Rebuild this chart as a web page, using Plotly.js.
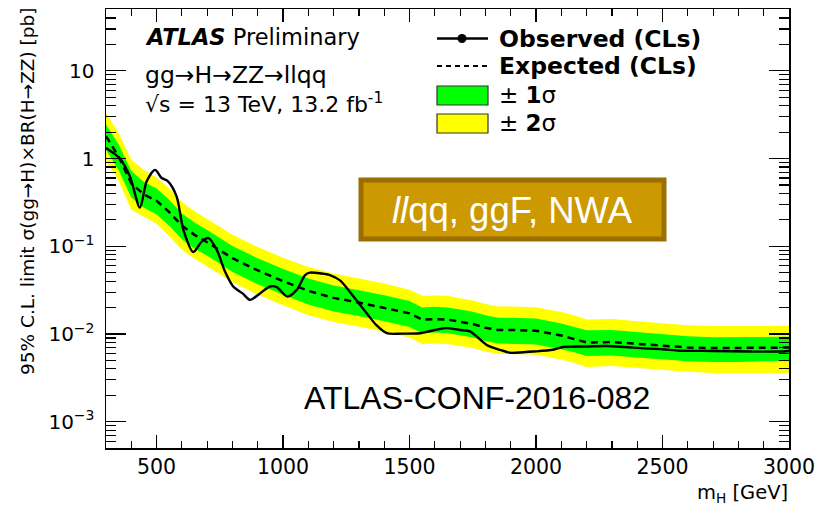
<!DOCTYPE html>
<html>
<head>
<meta charset="utf-8">
<script src="https://cdn.plot.ly/plotly-3.0.1.min.js"></script>
<style>html,body{margin:0;padding:0;background:#fff;}#chart{width:826px;height:508px;}</style>
</head>
<body>
<div id="chart"></div>
<script>
// ---- data ----
const mass = [300, 350, 400, 450, 500, 550, 600, 650, 700, 750, 800, 900, 1000, 1100, 1200, 1300, 1400, 1500, 1550, 1600, 1650, 1700, 1750, 1800, 1850, 1900, 2000, 2100, 2150, 2200, 2300, 2400, 2500, 2600, 2700, 2800, 2900, 3000];
const expected = [1.80, 1.05, 0.52, 0.39, 0.33, 0.245, 0.172, 0.135, 0.111, 0.090, 0.073, 0.053, 0.040, 0.031, 0.0258, 0.0228, 0.0200, 0.0172, 0.0146, 0.0148, 0.0146, 0.0138, 0.0130, 0.0118, 0.0111, 0.0111, 0.0109, 0.0096, 0.0088, 0.0080, 0.0081, 0.0077, 0.0073, 0.0070, 0.0069, 0.0069, 0.0070, 0.0070];
const plus2 = [3.3, 1.95, 0.97, 0.74, 0.61, 0.455, 0.32, 0.25, 0.205, 0.167, 0.135, 0.098, 0.074, 0.058, 0.049, 0.043, 0.0375, 0.032, 0.0272, 0.0275, 0.0272, 0.0256, 0.0241, 0.0219, 0.0206, 0.0206, 0.0202, 0.0178, 0.0163, 0.0146, 0.0148, 0.0140, 0.0132, 0.0126, 0.0123, 0.0123, 0.0124, 0.0124];
const plus1 = [2.45, 1.45, 0.72, 0.54, 0.455, 0.338, 0.237, 0.186, 0.153, 0.124, 0.101, 0.073, 0.055, 0.043, 0.0356, 0.0315, 0.0276, 0.0237, 0.0201, 0.0204, 0.0201, 0.0190, 0.0179, 0.0163, 0.0153, 0.0153, 0.0150, 0.0132, 0.0121, 0.0110, 0.0111, 0.0105, 0.0099, 0.0094, 0.0092, 0.0092, 0.0093, 0.0093];
const minus1 = [1.26, 0.735, 0.36, 0.275, 0.23, 0.171, 0.12, 0.094, 0.078, 0.063, 0.051, 0.037, 0.028, 0.0217, 0.018, 0.016, 0.014, 0.012, 0.0102, 0.0104, 0.0102, 0.0097, 0.0091, 0.0083, 0.0078, 0.0078, 0.0076, 0.0067, 0.0062, 0.0056, 0.0057, 0.0054, 0.0051, 0.0049, 0.0048, 0.0048, 0.0049, 0.0049];
const minus2 = [0.95, 0.56, 0.26, 0.215, 0.18, 0.13, 0.091, 0.072, 0.059, 0.048, 0.039, 0.028, 0.0212, 0.0164, 0.0137, 0.0121, 0.0106, 0.0091, 0.0077, 0.0078, 0.0077, 0.0073, 0.0069, 0.0063, 0.0059, 0.0059, 0.0058, 0.0051, 0.0047, 0.0042, 0.0043, 0.0041, 0.0039, 0.0037, 0.0036, 0.0036, 0.0036, 0.0036];

const obsMass = [300, 325, 355, 395, 434, 461, 494, 520, 545, 579, 606, 645, 678, 705, 738, 770, 803, 840, 869, 909, 948, 975, 1017, 1054, 1087, 1106, 1150, 1185, 1225, 1258, 1304, 1330, 1370, 1410, 1470, 1541, 1600, 1647, 1700, 1739, 1805, 1857, 1897, 1950, 1988, 2067, 2107, 2200, 2279, 2350, 2411, 2500, 2569, 2700, 2850, 2964, 3000];
const observed = [1.32, 1.18, 1.0, 0.62, 0.276, 0.55, 0.743, 0.60, 0.55, 0.37, 0.154, 0.086, 0.113, 0.124, 0.091, 0.052, 0.0348, 0.029, 0.0245, 0.029, 0.0348, 0.0342, 0.0267, 0.0318, 0.047, 0.050, 0.049, 0.047, 0.0408, 0.0318, 0.0215, 0.0173, 0.0125, 0.0102, 0.0101, 0.0102, 0.0111, 0.01165, 0.0111, 0.0107, 0.0075, 0.0066, 0.0061, 0.0062, 0.0063, 0.0066, 0.0071, 0.0072, 0.0073, 0.0071, 0.0069, 0.0067, 0.00645, 0.0064, 0.0063, 0.0063, 0.0064];

const xTickVals = [500, 1000, 1500, 2000, 2500, 3000];
const yTickVals = [0.001, 0.01, 0.1, 1, 10];
const yTickText = ['10<sup>\u22123</sup>', '10<sup>\u22122</sup>', '10<sup>\u22121</sup>', '1', '10'];

// ---- layout helpers ----
const L = 106, R = 789, T = 9, B = 448;
const W = 826, H = 508;
function px(x) { return (x - L) / (R - L); }
function py(y) { return (B - y) / (B - T); }

const yMinor = [];
for (let e = -4; e <= 1; e++) for (let m = 2; m <= 9; m++) yMinor.push(m * Math.pow(10, e));

const rev = a => a.slice().reverse();
const FONT = 'DejaVu Sans';

const traces = [
  { x: mass.concat(rev(mass)), y: plus2.concat(rev(minus2)), type: 'scatter', mode: 'lines',
    fill: 'toself', fillcolor: '#ffff00', line: { width: 0 }, hoverinfo: 'skip', showlegend: false },
  { x: mass.concat(rev(mass)), y: plus1.concat(rev(minus1)), type: 'scatter', mode: 'lines',
    fill: 'toself', fillcolor: '#00ff00', line: { width: 0 }, hoverinfo: 'skip', showlegend: false },
  { x: mass, y: expected, type: 'scatter', mode: 'lines',
    line: { color: '#000', width: 2.5, dash: '7px,5px' }, showlegend: false },
  { x: obsMass, y: observed, type: 'scatter', mode: 'lines',
    line: { color: '#000', width: 2.4, shape: 'spline', smoothing: 0.8 }, showlegend: false }
];

const shapes = [
  // legend symbols
  { type: 'line', xref: 'paper', yref: 'paper', x0: px(437), x1: px(488), y0: py(38.5), y1: py(38.5), line: { color: '#000', width: 2.5 } },
  { type: 'circle', xref: 'paper', yref: 'paper', x0: px(457.5), x1: px(466.5), y0: py(43), y1: py(34), fillcolor: '#000', line: { color: '#000', width: 0 } },
  { type: 'line', xref: 'paper', yref: 'paper', x0: px(437), x1: px(488), y0: py(66), y1: py(66), line: { color: '#000', width: 2.2, dash: '5px,4px' } },
  { type: 'rect', xref: 'paper', yref: 'paper', x0: px(437), x1: px(488), y0: py(105), y1: py(86), fillcolor: '#00ff00', line: { color: '#333', width: 1.2 } },
  { type: 'rect', xref: 'paper', yref: 'paper', x0: px(437), x1: px(488), y0: py(133), y1: py(114), fillcolor: '#ffff00', line: { color: '#333', width: 1.2 } },
  // label box
  { type: 'rect', xref: 'paper', yref: 'paper', x0: px(361), x1: px(664), y0: py(239), y1: py(180), fillcolor: '#cc9900', line: { color: '#9a6e00', width: 5 } }
];

const ann = (x, y, text, size, opts) => Object.assign({
  xref: 'paper', yref: 'paper', x: px(x), y: py(y), text: text, showarrow: false,
  xanchor: 'left', yanchor: 'middle', font: { family: FONT, size: size, color: '#000' }
}, opts || {});

const annotations = [
  ann(143, 37, '<b><i>ATLAS</i></b> Preliminary', 22.5),
  ann(143, 75, 'gg\u2192H\u2192ZZ\u2192llqq', 23.5),
  ann(143, 103, '\u221As = 13 TeV, 13.2 fb<sup>-1</sup>', 22),
  ann(497, 39, '<b>Observed (CLs)</b>', 23.5),
  ann(497, 66, '<b>Expected (CLs)</b>', 23.5),
  ann(497, 95, '\u00B1 <b>1</b>\u03C3', 23),
  ann(497, 123, '\u00B1 <b>2</b>\u03C3', 23),
  ann(512, 210, '<i>ll</i>qq, ggF, NWA', 36.5, { xanchor: 'center', font: { family: 'Liberation Sans', size: 36.5, color: '#fff' } }),
  ann(477, 398, 'ATLAS-CONF-2016-082', 32, { xanchor: 'center', font: { family: 'Liberation Sans', size: 32, color: '#000' } }),
  ann(790, 493, 'm<sub>H</sub> [GeV]', 19.5, { xanchor: 'right' }),
  ann(27, 191, '95% C.L. limit \u03C3(gg\u2192H)\u00D7BR(H\u2192ZZ) [pb]', 18.5, { xanchor: 'center', textangle: -90 })
];

const layout = {
  width: W, height: H,
  margin: { l: L, r: W - R, t: T, b: H - B, pad: 0 },
  paper_bgcolor: '#fff', plot_bgcolor: '#fff',
  showlegend: false,
  xaxis: {
    range: [300, 3000], tickmode: 'array', tickvals: xTickVals,
    ticks: 'inside', ticklen: 13, tickwidth: 1.3, tickcolor: '#000',
    minor: { tickmode: 'linear', tick0: 0, dtick: 100, ticks: 'inside', ticklen: 7, tickwidth: 1.2, tickcolor: '#000' },
    showline: true, linecolor: '#000', linewidth: 1.5, mirror: 'ticks',
    showgrid: false, zeroline: false,
    tickfont: { family: FONT, size: 20.5, color: '#000' }
  },
  yaxis: {
    type: 'log', range: [-3.3, 1.705], tickmode: 'array', tickvals: yTickVals, ticktext: yTickText,
    ticks: 'inside', ticklen: 20, tickwidth: 1.3, tickcolor: '#000',
    minor: { tickmode: 'array', tickvals: yMinor, ticks: 'inside', ticklen: 10, tickwidth: 1.2, tickcolor: '#000' },
    showline: true, linecolor: '#000', linewidth: 1.5, mirror: 'ticks',
    showgrid: false, zeroline: false, ticklabelstandoff: 6,
    tickfont: { family: FONT, size: 20, color: '#000' }
  },
  shapes: shapes,
  annotations: annotations
};

Plotly.newPlot('chart', traces, layout, { staticPlot: true, displayModeBar: false });
</script>
</body>
</html>
